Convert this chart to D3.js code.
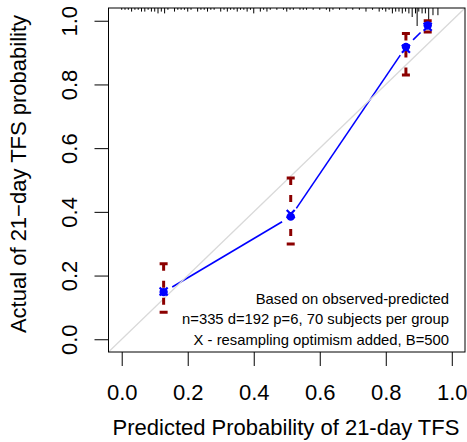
<!DOCTYPE html>
<html>
<head>
<meta charset="utf-8">
<script src="https://cdn.jsdelivr.net/npm/d3@7"></script>
<style>
  body { margin: 0; background: #fff; }
  text { font-family: "Liberation Sans", Arial, sans-serif; fill: #000; }
</style>
</head>
<body>
<div id="chart"></div>
<script>
// calibration groups
const predicted = [0.127, 0.512, 0.861, 0.927]
const observed = [0.148, 0.385, 0.918, 0.985]
const corrected = [0.150, 0.393, 0.912, 0.981]
const lowerCI = [0.085, 0.299, 0.830, 0.965]
const upperCI = [0.237, 0.506, 0.960, 1.000]

// rug of predicted values (top of plot)
const rugValues = [0.00, 0.01, 0.02, 0.03, 0.04, 0.05, 0.06, 0.07, 0.08, 0.09, 0.10, 0.11, 0.12, 0.13, 0.14,
  0.16, 0.17, 0.18, 0.19, 0.20, 0.21, 0.23, 0.24, 0.25, 0.26, 0.27, 0.28, 0.30, 0.31, 0.32, 0.33, 0.34,
  0.35, 0.36, 0.37, 0.38, 0.39, 0.40, 0.42, 0.43, 0.44, 0.45, 0.47, 0.49, 0.50, 0.51, 0.52, 0.54, 0.55,
  0.56, 0.58, 0.60, 0.62, 0.63, 0.64, 0.66, 0.68, 0.70, 0.72, 0.74, 0.76, 0.78, 0.79, 0.80, 0.81, 0.82,
  0.83, 0.84, 0.85, 0.86, 0.87, 0.88, 0.89, 0.895, 0.90, 0.91, 0.92, 0.93, 0.943, 0.958]
const rugCounts = [1, 1, 1, 2, 1, 1, 2, 2, 1, 2, 2, 3, 2, 3, 1,
  2, 1, 1, 1, 2, 1, 2, 1, 1, 2, 1, 1, 2, 1, 2, 1, 1,
  2, 1, 1, 2, 1, 3, 2, 1, 2, 1, 1, 1, 2, 1, 1, 1, 1,
  1, 1, 1, 1, 2, 1, 1, 1, 1, 1, 2, 1, 2, 1, 2, 1, 3,
  2, 2, 3, 2, 3, 5, 3, 10, 2, 3, 3, 7, 4, 4]

const tickValues = [0, 0.2, 0.4, 0.6, 0.8, 1.0]

const legendLines = [
  "Based on observed-predicted",
  "n=335 d=192 p=6, 70 subjects per group",
  "X - resampling optimism added, B=500"
]

const W = 467, H = 442
const box = {left: 108.5, right: 465, top: 8, bottom: 352}

const x = d3.scaleLinear().domain([-0.04, 1.04]).range([box.left, box.right])
const y = d3.scaleLinear().domain([-0.04, 1.04]).range([box.bottom, box.top])

const svg = d3.select("#chart").append("svg")
  .attr("width", W).attr("height", H)

svg.append("defs").append("clipPath").attr("id", "plotclip")
  .append("rect")
  .attr("x", box.left).attr("y", box.top)
  .attr("width", box.right - box.left).attr("height", box.bottom - box.top)

const plot = svg.append("g").attr("clip-path", "url(#plotclip)")

// rug
const rugScale = d3.scaleLinear().domain([0, 10]).range([0, 18])
plot.selectAll("line.rug")
  .data(rugValues)
  .enter().append("line")
  .attr("class", "rug")
  .attr("x1", d => x(d)).attr("x2", d => x(d))
  .attr("y1", box.top)
  .attr("y2", (d, i) => box.top + rugScale(rugCounts[i]))
  .attr("stroke", "#000").attr("stroke-width", 1)

// connecting line, type="b" style gaps around the points
const pts = predicted.map((p, i) => [x(p), y(observed[i])])
const gap = 10
for (let i = 0; i < pts.length - 1; i++) {
  const [x0, y0] = pts[i], [x1, y1] = pts[i + 1]
  const len = Math.hypot(x1 - x0, y1 - y0)
  if (len <= 2 * gap) continue
  const ux = (x1 - x0) / len, uy = (y1 - y0) / len
  plot.append("line")
    .attr("x1", x0 + ux * gap).attr("y1", y0 + uy * gap)
    .attr("x2", x1 - ux * gap).attr("y2", y1 - uy * gap)
    .attr("stroke", "#0000ff").attr("stroke-width", 1.6)
}

// ideal diagonal
plot.append("line")
  .attr("x1", x(-0.04)).attr("y1", y(-0.04))
  .attr("x2", x(1.04)).attr("y2", y(1.04))
  .attr("stroke", "#d9d9d9").attr("stroke-width", 1.3)

// error bars
const eb = plot.selectAll("g.errbar")
  .data(predicted)
  .enter().append("g").attr("class", "errbar")

eb.append("line")
  .attr("x1", d => x(d)).attr("x2", d => x(d))
  .attr("y1", (d, i) => y(upperCI[i])).attr("y2", (d, i) => y(lowerCI[i]))
  .attr("stroke", "#8b0000").attr("stroke-width", 3)
  .attr("stroke-dasharray", "7,10")
eb.append("line")
  .attr("x1", d => x(d) - 4).attr("x2", d => x(d) + 4)
  .attr("y1", (d, i) => y(upperCI[i])).attr("y2", (d, i) => y(upperCI[i]))
  .attr("stroke", "#8b0000").attr("stroke-width", 3)
eb.append("line")
  .attr("x1", d => x(d) - 4).attr("x2", d => x(d) + 4)
  .attr("y1", (d, i) => y(lowerCI[i])).attr("y2", (d, i) => y(lowerCI[i]))
  .attr("stroke", "#8b0000").attr("stroke-width", 3)

// observed points
plot.selectAll("circle.obs")
  .data(predicted)
  .enter().append("circle")
  .attr("class", "obs")
  .attr("cx", d => x(d)).attr("cy", (d, i) => y(observed[i]))
  .attr("r", 4.2)
  .attr("fill", "#0000ff")

// bias-corrected X markers
const s = 4
plot.selectAll("path.corr")
  .data(predicted)
  .enter().append("path")
  .attr("class", "corr")
  .attr("d", (d, i) => {
    const cx = x(d), cy = y(corrected[i])
    return `M${cx - s},${cy - s}L${cx + s},${cy + s}M${cx - s},${cy + s}L${cx + s},${cy - s}`
  })
  .attr("stroke", "#0000ff").attr("stroke-width", 2.2).attr("fill", "none")

// box
svg.append("rect")
  .attr("x", box.left).attr("y", box.top)
  .attr("width", box.right - box.left).attr("height", box.bottom - box.top)
  .attr("fill", "none").attr("stroke", "#000").attr("stroke-width", 1)

// axes
const xAxis = d3.axisBottom(x).tickValues(tickValues).tickSize(14).tickFormat(d3.format(".1f"))
const yAxis = d3.axisLeft(y).tickValues(tickValues).tickSize(14).tickFormat(d3.format(".1f"))

const gx = svg.append("g")
  .attr("transform", `translate(0,${box.bottom})`)
  .call(xAxis)
gx.select(".domain").remove()
gx.selectAll(".tick line").attr("stroke", "#000")
gx.selectAll(".tick text")
  .attr("y", 47.5).attr("dy", null)
  .attr("font-size", 22).attr("fill", "#000")
  .style("font-family", "'Liberation Sans', Arial, sans-serif")

const gy = svg.append("g")
  .attr("transform", `translate(${box.left},0)`)
  .call(yAxis)
gy.select(".domain").remove()
gy.selectAll(".tick line").attr("stroke", "#000")
gy.selectAll(".tick text")
  .attr("x", 0).attr("y", 0).attr("dy", null)
  .attr("text-anchor", "middle")
  .attr("transform", "translate(-31.5,0) rotate(-90)")
  .attr("font-size", 22).attr("fill", "#000")
  .style("font-family", "'Liberation Sans', Arial, sans-serif")

// axis titles
svg.append("text")
  .attr("x", 286).attr("y", 435)
  .attr("text-anchor", "middle")
  .attr("font-size", 22)
  .text("Predicted Probability of 21-day TFS")

svg.append("text")
  .attr("transform", "translate(26,174) rotate(-90)")
  .attr("text-anchor", "middle")
  .attr("font-size", 22)
  .text("Actual of 21\u2212day TFS probability")

// legend text
svg.selectAll("text.legend")
  .data(legendLines)
  .enter().append("text")
  .attr("class", "legend")
  .attr("x", 449)
  .attr("y", (d, i) => 303.5 + i * 20.5)
  .attr("text-anchor", "end")
  .attr("font-size", 14.8)
  .text(d => d)
</script>
</body>
</html>
